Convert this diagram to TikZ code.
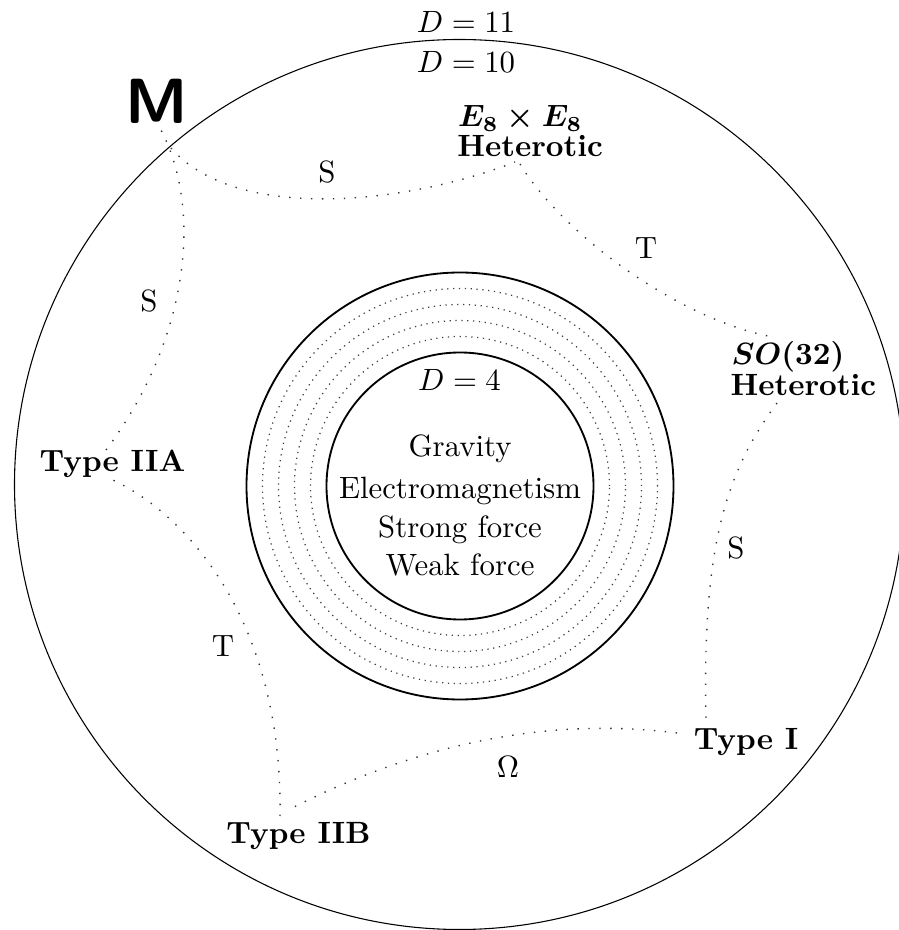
\documentclass[tikz,border=0pt]{standalone}
\begin{document}
\begin{tikzpicture}[x=0.3247pt,y=0.3247pt,
  bigcirc/.style={line width=0.35pt},
  ringcirc/.style={line width=0.6pt},
  dotcirc/.style={line width=0.4pt, dash pattern=on 0.4pt off 1.5pt, black!75},
  duality/.style={line width=0.45pt, dash pattern=on 0.45pt off 3.1pt, black!80},
  theory/.style={font=\bfseries, inner sep=0pt},
  plain/.style={inner sep=0pt},
  ]
\useasboundingbox (0,0) rectangle (899,930);
% circles
\draw[bigcirc] (459.5,445.5) circle[radius=445];
\draw[ringcirc] (460,444) circle[radius=213.5];
\foreach \r in {149.5,165.5,181.5,197.5} \draw[dotcirc] (460,444) circle[radius=\r];
\draw[ringcirc] (460,444) circle[radius=133.5];
% dimension labels
\node[plain, anchor=base] (d11) at (466,897) {$D=11$};
\node[plain, anchor=base] (d10) at (466,857) {$D=10$};
\node[plain, anchor=base] (d4) at (459.5,539.3) {$D=4$};
\node[plain, anchor=base] (f1) at (460,473.3) {Gravity};
\node[plain, anchor=base] (f2) at (460,431.7) {Electromagnetism};
\node[plain, anchor=base] (f3) at (460,392.3) {Strong force};
\node[plain, anchor=base] (f4) at (460,354) {Weak force};
% theories
\node[plain, anchor=base, font=\huge\sffamily\bfseries] (M) at (156.7,806.7) {M};
\node[theory, anchor=base west] (e8a) at (457.5,803.5) {{\boldmath$E_8\times E_8$}};
\node[theory, anchor=base west] (e8b) at (456.7,773.5) {Heterotic};
\node[theory, anchor=base west] (soa) at (731,565) {{\boldmath$SO(32)$}};
\node[theory, anchor=base west] (sob) at (730,534) {Heterotic};
\node[theory, anchor=base] (IIA) at (112.5,458.3) {Type IIA};
\node[theory, anchor=base] (IIB) at (298.5,86.7) {Type IIB};
\node[theory, anchor=base] (I) at (746,180) {Type I};
% curve end points
\coordinate (mA) at (171,782);
\coordinate (mF) at (161,800);
\coordinate (eA) at (515,768);
\coordinate (eB) at (520,766);
\coordinate (sB) at (773,593);
\coordinate (sC) at (777,527);
\coordinate (iC) at (706,212);
\coordinate (iD) at (677,197);
\coordinate (bD) at (292,122);
\coordinate (bE) at (280,114);
\coordinate (aE) at (106,453);
\coordinate (aF) at (106,480);
% dualities
\draw[duality] (mA) .. controls (235,708) and (405,725) .. (eA);
\draw[duality] (eB) .. controls (563,695) and (680,610) .. (sB);
\draw[duality] (sC) .. controls (728,460) and (702,390) .. (iC);
\draw[duality] (iD) .. controls (560,212) and (430,192) .. (bD);
\draw[duality] (bE) .. controls (283,310) and (185,420) .. (aE);
\draw[duality] (aF) .. controls (185,585) and (205,715) .. (mF);
% duality labels
\node[plain] (lA) at (327,758.5) {S};
\node[plain] (lB) at (646,682) {T};
\node[plain] (lC) at (736,382) {S};
\node[plain] (lD) at (508,163.3) {$\Omega$};
\node[plain] (lE) at (223,284) {T};
\node[plain] (lF) at (149,629) {S};
\end{tikzpicture}
\end{document}
